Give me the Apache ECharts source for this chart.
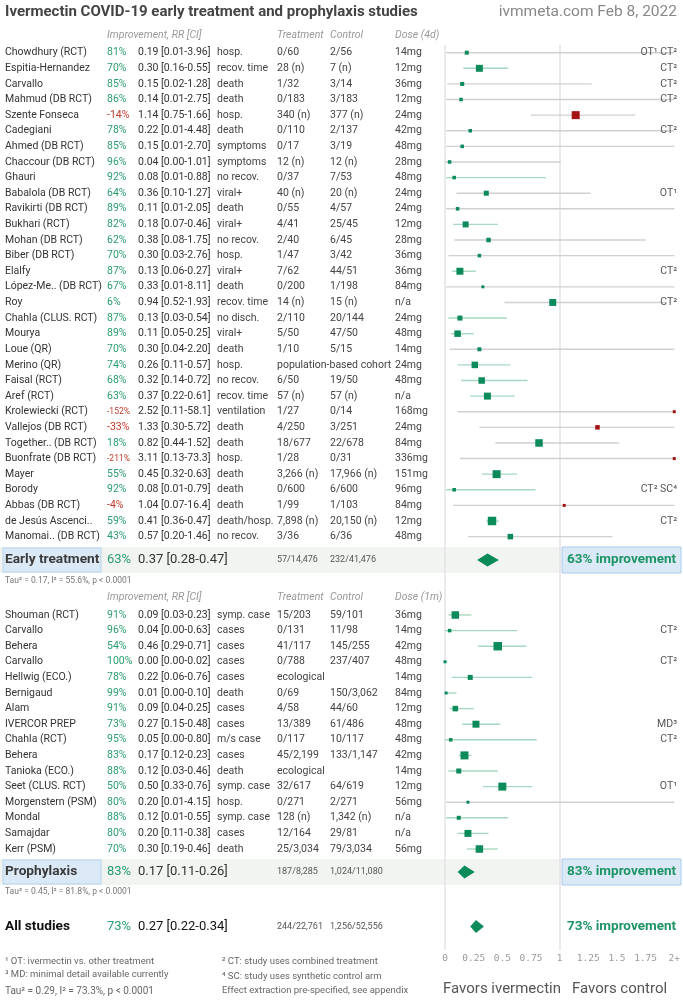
<!DOCTYPE html>
<html><head><meta charset="utf-8">
<script src="https://cdn.jsdelivr.net/npm/echarts@6/dist/echarts.min.js"></script>
<style>html,body{margin:0;padding:0;background:#fff}#c{width:683px;height:1000px}</style>
</head><body><div id="c"></div>
<script>
// ---------- DATA ----------
const earlyStudies = ['Chowdhury (RCT)','Espitia-Hernandez','Carvallo','Mahmud (DB RCT)','Szente Fonseca','Cadegiani','Ahmed (DB RCT)','Chaccour (DB RCT)','Ghauri','Babalola (DB RCT)','Ravikirti (DB RCT)','Bukhari (RCT)','Mohan (DB RCT)','Biber (DB RCT)','Elalfy','López-Me.. (DB RCT)','Roy','Chahla (CLUS. RCT)','Mourya','Loue (QR)','Merino (QR)','Faisal (RCT)','Aref (RCT)','Krolewiecki (RCT)','Vallejos (DB RCT)','Together.. (DB RCT)','Buonfrate (DB RCT)','Mayer','Borody','Abbas (DB RCT)','de Jesús Ascenci..','Manomai.. (DB RCT)'];
const earlyRR = [0.19,0.30,0.15,0.14,1.14,0.22,0.15,0.04,0.08,0.36,0.11,0.18,0.38,0.30,0.13,0.33,0.94,0.13,0.11,0.30,0.26,0.32,0.37,2.52,1.33,0.82,3.11,0.45,0.08,1.04,0.41,0.57];
const earlyLo = [0.01,0.16,0.02,0.01,0.75,0.01,0.01,0.00,0.01,0.10,0.01,0.07,0.08,0.03,0.06,0.01,0.52,0.03,0.05,0.04,0.11,0.14,0.22,0.11,0.30,0.44,0.13,0.32,0.01,0.07,0.36,0.20];
const earlyHi = [3.96,0.55,1.28,2.75,1.66,4.48,2.70,1.01,0.88,1.27,2.05,0.46,1.75,2.76,0.27,8.11,1.93,0.54,0.25,2.20,0.57,0.72,0.61,58.1,5.72,1.52,73.3,0.63,0.79,16.4,0.47,1.46];
const earlyOutcome = ['hosp.','recov. time','death','death','hosp.','death','symptoms','symptoms','no recov.','viral+','death','viral+','no recov.','hosp.','viral+','death','recov. time','no disch.','viral+','death','hosp.','no recov.','recov. time','ventilation','death','death','hosp.','death','death','death','death/hosp.','no recov.'];
const earlyTreatment = ['0/60','28 (n)','1/32','0/183','340 (n)','0/110','0/17','12 (n)','0/37','40 (n)','0/55','4/41','2/40','1/47','7/62','0/200','14 (n)','2/110','5/50','1/10','population-based cohort','6/50','57 (n)','1/27','4/250','18/677','1/28','3,266 (n)','0/600','1/99','7,898 (n)','3/36'];
const earlyControl = ['2/56','7 (n)','3/14','3/183','377 (n)','2/137','3/19','12 (n)','7/53','20 (n)','4/57','25/45','6/45','3/42','44/51','1/198','15 (n)','20/144','47/50','5/15','','19/50','57 (n)','0/14','3/251','22/678','0/31','17,966 (n)','6/600','1/103','20,150 (n)','6/36'];
const earlyDose = ['14mg','12mg','36mg','12mg','24mg','42mg','48mg','28mg','48mg','24mg','24mg','12mg','28mg','36mg','36mg','84mg','n/a','24mg','48mg','14mg','24mg','48mg','n/a','168mg','24mg','84mg','336mg','151mg','96mg','84mg','12mg','48mg'];
const earlyNotes = ['OT¹ CT²','CT²','CT²','CT²','','CT²','','','','OT¹','','','','','CT²','','CT²','','','','','','','','','','','','CT² SC⁴','','CT²',''];
const earlyWeight = [1.8,5.4,1.8,1.4,7.1,1.4,1.4,1.4,1.4,2.8,1.4,4.0,2.25,1.4,5.4,1.0,5.4,2.8,4.7,1.8,4.7,4.7,5.4,1.0,2.25,6.25,1.0,7.1,1.4,1.0,8.0,3.4];

const prophStudies = ['Shouman (RCT)','Carvallo','Behera','Carvallo','Hellwig (ECO.)','Bernigaud','Alam','IVERCOR PREP','Chahla (RCT)','Behera','Tanioka (ECO.)','Seet (CLUS. RCT)','Morgenstern (PSM)','Mondal','Samajdar','Kerr (PSM)'];
const prophRR = [0.09,0.04,0.46,0.00,0.22,0.01,0.09,0.27,0.05,0.17,0.12,0.50,0.20,0.12,0.20,0.30];
const prophLo = [0.03,0.00,0.29,0.00,0.06,0.00,0.04,0.15,0.00,0.12,0.03,0.33,0.01,0.01,0.11,0.19];
const prophHi = [0.23,0.63,0.71,0.02,0.76,0.10,0.25,0.48,0.80,0.23,0.46,0.76,4.15,0.55,0.38,0.46];
const prophOutcome = ['symp. case','cases','cases','cases','cases','death','cases','cases','m/s case','cases','death','symp. case','hosp.','symp. case','cases','death'];
const prophTreatment = ['15/203','0/131','41/117','0/788','ecological','0/69','4/58','13/389','0/117','45/2,199','ecological','32/617','0/271','128 (n)','12/164','25/3,034'];
const prophControl = ['59/101','11/98','145/255','237/407','','150/3,062','44/60','61/486','10/117','133/1,147','','64/619','2/271','1,342 (n)','29/81','79/3,034'];
const prophDose = ['36mg','14mg','42mg','48mg','14mg','84mg','12mg','48mg','48mg','42mg','14mg','12mg','56mg','n/a','n/a','56mg'];
const prophNotes = ['','CT²','','CT²','','','','MD³','CT²','','','OT¹','','','',''];
const prophWeight = [6.25,1.4,8.0,1.0,2.8,1.0,3.4,5.4,1.4,7.1,2.8,7.1,1.0,1.8,5.4,6.25];

const summaryNames = ['Early treatment','Prophylaxis','All studies'];
const summaryRR = [0.37,0.17,0.27];
const summaryLo = [0.28,0.11,0.22];
const summaryHi = [0.47,0.26,0.34];
const summaryTreatment = ['57/14,476','187/8,285','244/22,761'];
const summaryControl = ['232/41,476','1,024/11,080','1,256/52,556'];
const heterogeneity = ['Tau² = 0.17, I² = 55.6%, p < 0.0001','Tau² = 0.45, I² = 81.8%, p < 0.0001','Tau² = 0.29, I² = 73.3%, p < 0.0001'];
const doseHeaders = ['Dose (4d)','Dose (1m)'];
const tickValues = [0,0.25,0.5,0.75,1,1.25,1.5,1.75,2];
const tickLabels = ['0','0.25','0.5','0.75','1','1.25','1.5','1.75','2+'];
const footnotesLeft = ['¹ OT: ivermectin vs. other treatment','³ MD: minimal detail available currently'];
const footnotesRight = ['² CT: study uses combined treatment','⁴ SC: study uses synthetic control arm','Effect extraction pre-specified, see appendix'];
const titleText = 'Ivermectin COVID-19 early treatment and prophylaxis studies';
const sourceText = 'ivmmeta.com Feb 8, 2022';

// ---------- LAYOUT ----------
const XMAX = 2;
const earlyY0 = 52.7, earlyStep = 15.61;
const prophY0 = 615, prophStep = 15.6;
const header1Y = 35, header2Y = 597;
const summaryY = [560, 872, 926.5];
const tauY = [580.5, 892];
const col = {name:5, imp:107, rr:138, out:217, tr:277, ct:330, dose:395, note:677};
const GREEN = '#2a9d6e', RED = '#c0392b', SQ_GREEN = '#0b8a5a', SQ_RED = '#a61212';
const FONT = 'Roboto, "Noto Sans", sans-serif';

const fmt = v => v >= 10 ? v.toFixed(1) : v.toFixed(2);
const ciText = (r,l,h) => fmt(r) + ' [' + fmt(l) + '-' + fmt(h) + ']';
const impOf = r => Math.round((1 - r) * 100);

function rowsFor(studies, rr, lo, hi, outc, tr, ct, dose, notes, w, y0, step) {
  return studies.map((s,i) => ({name:s, rr:rr[i], lo:lo[i], hi:hi[i], out:outc[i], tr:tr[i], ct:ct[i], dose:dose[i], note:notes[i], w:w[i], y:y0 + i*step}));
}
const rows = rowsFor(earlyStudies, earlyRR, earlyLo, earlyHi, earlyOutcome, earlyTreatment, earlyControl, earlyDose, earlyNotes, earlyWeight, earlyY0, earlyStep)
  .concat(rowsFor(prophStudies, prophRR, prophLo, prophHi, prophOutcome, prophTreatment, prophControl, prophDose, prophNotes, prophWeight, prophY0, prophStep));

// ---------- TEXT (graphic) ----------
const G = [];
function T(x, y, text, font, fill, align, z) {
  G.push({type:'text', x:x, y:y, z: z || 100, silent:true,
    style:{text:text, font:font, fill:fill, textAlign:align||'left', align:align||'left', textVerticalAlign:'middle', verticalAlign:'middle'}});
}
function R(x, y, w, h, fill, stroke, z) {
  G.push({type:'rect', z: z || 0, silent:true, shape:{x:x, y:y, width:w, height:h}, style:{fill:fill, stroke:stroke||null, lineWidth: stroke?1:0}});
}

T(5, 12, titleText, 'bold 15px ' + FONT, '#444');
T(677, 12, sourceText, '15.5px ' + FONT, '#888', 'right');

[header1Y, header2Y].forEach((hy, k) => {
  const f = 'italic 10.5px ' + FONT;
  T(col.imp, hy, 'Improvement, RR [CI]', f, '#999');
  T(col.tr, hy, 'Treatment', f, '#999');
  T(col.ct, hy, 'Control', f, '#999');
  T(col.dose, hy, doseHeaders[k], f, '#999');
});

const rowFont = '10.5px ' + FONT;
rows.forEach(r => {
  const imp = impOf(r.rr);
  T(col.name, r.y, r.name, rowFont, '#333');
  const big = Math.abs(imp) >= 100 && imp < 0;
  T(col.imp, r.y, imp + '%', (big ? '8.5px ' : '10.5px ') + FONT, imp < 0 ? RED : GREEN);
  T(col.rr, r.y, ciText(r.rr, r.lo, r.hi), rowFont, '#333');
  T(col.out, r.y, r.out, rowFont, '#444');
  T(col.tr, r.y, r.tr, rowFont, '#444');
  if (r.ct) T(col.ct, r.y, r.ct, rowFont, '#444');
  T(col.dose, r.y, r.dose, rowFont, '#444');
  if (r.note) T(col.note, r.y, r.note, '10.5px ' + FONT, '#555', 'right');
});

summaryNames.forEach((nm, k) => {
  const y = summaryY[k];
  const boxed = k < 2;
  if (boxed) {
    R(0, y - 13, 561, 26, '#f1f4f1', null, 0);
    R(3, y - 12, 98, 24, '#dbe9f7', '#b5d1ec', 1);
    R(562, y - 13, 119, 26, '#dbe9f7', '#a9cdea', 1);
  }
  T(col.name, y, nm, 'bold 13.7px ' + FONT, boxed ? '#3a3a3a' : '#111');
  T(col.imp, y, impOf(summaryRR[k]) + '%', '13px ' + FONT, GREEN);
  T(col.rr, y, ciText(summaryRR[k], summaryLo[k], summaryHi[k]), '13px ' + FONT, boxed ? '#333' : '#111');
  T(col.tr, y, summaryTreatment[k], '9px ' + FONT, '#555');
  T(col.ct, y, summaryControl[k], '9px ' + FONT, '#555');
  T(621.5, y, impOf(summaryRR[k]) + '% improvement', 'bold 13.5px ' + FONT, '#1e9466', 'center');
});
tauY.forEach((y, k) => T(5, y, heterogeneity[k], '8.5px ' + FONT, '#777'));

footnotesLeft.forEach((t, i) => T(5, 962 + i*13, t, '9.5px ' + FONT, '#666'));
T(5, 991, heterogeneity[2], '10px ' + FONT, '#666');
footnotesRight.forEach((t, i) => T(222, 962 + i*14.5, t, '9.5px ' + FONT, '#666'));
T(443, 989, 'Favors ivermectin', '15px ' + FONT, '#555');
T(572, 989, 'Favors control', '15px ' + FONT, '#555');

// ---------- MARKS ----------
const ciData = rows.map(r => [Math.min(r.lo, XMAX), Math.min(r.hi, XMAX), r.y, r.hi < 1 ? 1 : 0]);
const sqData = rows.map(r => ({value:[Math.min(r.rr, XMAX), r.y], symbolSize: 3 * Math.sqrt(r.w),
  itemStyle:{color: r.rr > 1 ? SQ_RED : SQ_GREEN, opacity:1}}));
const diaData = summaryNames.map((n, k) => [summaryLo[k], summaryRR[k], summaryHi[k], summaryY[k]]);

const chart = echarts.init(document.getElementById('c'));
chart.setOption({
  animation:false,
  backgroundColor:'#fff',
  grid:{left:445, right:6, top:45, bottom:50},
  xAxis:{type:'value', min:0, max:XMAX, interval:0.25,
    axisLine:{show:false}, axisTick:{show:false}, splitLine:{show:false},
    axisLabel:{margin:4, color:'#999', fontFamily:'DejaVu Sans Mono, monospace', fontSize:9.5,
      formatter: v => { const i = tickValues.findIndex(t => Math.abs(t - v) < 1e-9); return i >= 0 ? tickLabels[i] : ''; }}},
  yAxis:{type:'value', min:45, max:950, inverse:true, show:false},
  graphic:{elements:G},
  series:[
    {type:'custom', clip:false, z:3, silent:true, data:ciData, encode:{x:[0,1], y:2},
      renderItem:(p, api) => {
        const a = api.coord([api.value(0), api.value(2)]);
        const b = api.coord([api.value(1), api.value(2)]);
        return {type:'line', shape:{x1:a[0], y1:a[1], x2:b[0], y2:b[1]},
          style:{stroke: api.value(3) ? '#a6d8c1' : '#d0d0d0', lineWidth:1.4}};
      },
      markLine:{silent:true, symbol:'none', label:{show:false}, z:1,
        lineStyle:{color:'#e3e3e3', width:1.5, type:'solid'}, data:[{xAxis:0},{xAxis:1}]}},
    {type:'scatter', symbol:'rect', clip:false, z:4, silent:true, itemStyle:{opacity:1}, data:sqData},
    {type:'custom', clip:false, z:4, silent:true, data:diaData, encode:{x:[0,1,2], y:3},
      renderItem:(p, api) => {
        const l = api.coord([api.value(0), api.value(3)]);
        const c = api.coord([api.value(1), api.value(3)]);
        const h = api.coord([api.value(2), api.value(3)]);
        return {type:'polygon', shape:{points:[[l[0], l[1]], [c[0], c[1] - 6.5], [h[0], h[1]], [c[0], c[1] + 6.5]]},
          style:{fill:SQ_GREEN}};
      }}
  ]
});
</script></body></html>
